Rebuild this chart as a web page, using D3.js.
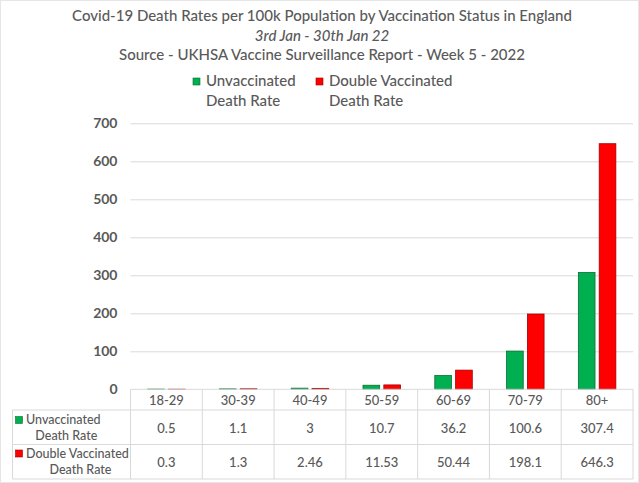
<!DOCTYPE html>
<html>
<head>
<meta charset="utf-8">
<script src="https://cdn.jsdelivr.net/npm/d3@7"></script>
<style>
  body { margin: 0; background: #fff; }
  text { font-family: Lato, "Open Sans", sans-serif; fill: #595959; }
</style>
</head>
<body>
<div id="chart"></div>
<script>
// data
const categories = ["18-29", "30-39", "40-49", "50-59", "60-69", "70-79", "80+"];
const unvaccinated = [0.5, 1.1, 3, 10.7, 36.2, 100.6, 307.4];
const doubleVaccinated = [0.3, 1.3, 2.46, 11.53, 50.44, 198.1, 646.3];
const yTicks = [0, 100, 200, 300, 400, 500, 600, 700];
const seriesNames = ["Unvaccinated", "Double Vaccinated"];
const seriesColors = ["#00b050", "#ff0000"];
const seriesStrokes = ["#0b6b35", "#a00000"];
const titleLines = [
    "Covid-19 Death Rates per 100k Population by Vaccination Status in England",
    "3rd Jan - 30th Jan 22",
    "Source - UKHSA Vaccine Surveillance Report - Week 5 - 2022"
];

const W = 639, H = 483;
const plot = {left: 130.5, right: 633, top: 123.3, bottom: 389.3};
const rows = {cat: 410, r1: 444.5, r2: 479, tableLeft: 12.5};
const grid = "#d9d9d9";

const svg = d3.select("#chart")
    .append("svg")
    .attr("width", W)
    .attr("height", H);

svg.append("rect")
    .attr("x", 0.5).attr("y", 0.5)
    .attr("width", W - 1).attr("height", H - 1)
    .attr("fill", "#fff")
    .attr("stroke", "#e6e6e6");

const series = [unvaccinated, doubleVaccinated];

const x = d3.scaleBand()
    .domain(categories)
    .range([plot.left, plot.right]);

const x1 = d3.scaleBand()
    .domain(d3.range(series.length))
    .range([0, 37.5])
    .paddingInner(0.2);

const y = d3.scaleLinear()
    .domain([0, 700])
    .range([plot.bottom, plot.top]);

// titles
svg.selectAll(".title")
    .data(titleLines)
    .join("text")
    .attr("class", "title")
    .attr("x", 322)
    .attr("y", (d, i) => [21, 41, 60][i])
    .attr("text-anchor", "middle")
    .style("font-size", "15px")
    .style("font-weight", 500)
    .style("font-style", (d, i) => i == 1 ? "italic" : "normal")
    .text(d => d);

// top legend
const legend = svg.selectAll(".legend")
    .data(seriesNames)
    .join("g")
    .attr("class", "legend")
    .attr("transform", (d, i) => `translate(${[193, 316][i]}, 0)`);

legend.append("rect")
    .attr("x", 0).attr("y", 78)
    .attr("width", 7).attr("height", 7)
    .attr("fill", (d, i) => seriesColors[i])
    .attr("stroke", (d, i) => seriesStrokes[i])
    .attr("stroke-width", 0.6);

legend.append("text")
    .attr("x", 13).attr("y", 86)
    .style("font-size", "15px")
    .style("font-weight", 500)
    .text(d => d);

legend.append("text")
    .attr("x", 13).attr("y", 106)
    .style("font-size", "15px")
    .style("font-weight", 500)
    .text("Death Rate");

// y axis + gridlines
const yAxis = svg.append("g")
    .attr("transform", `translate(${plot.left}, 0)`)
    .call(d3.axisLeft(y)
        .tickValues(yTicks.slice(1))
        .tickSize(-(plot.right - plot.left))
        .tickPadding(13));

yAxis.select(".domain").remove();
yAxis.selectAll("line").attr("stroke", grid);
yAxis.selectAll("text")
    .style("font-size", "14px")
    .style("font-weight", "bold")
    .attr("fill", "#595959");

// zero label sits beside the table top line
svg.append("text")
    .attr("x", plot.left - 13)
    .attr("y", y(0) + 5)
    .attr("text-anchor", "end")
    .style("font-size", "14px")
    .style("font-weight", "bold")
    .text(yTicks[0]);

// bars
const groups = svg.append("g")
    .selectAll("g")
    .data(categories)
    .join("g")
    .attr("transform", d => `translate(${x(d) + x.bandwidth() / 2 - 18.75}, 0)`);

groups.selectAll("rect")
    .data((d, ci) => series.map((s, si) => ({si: si, v: s[ci]})))
    .join("rect")
    .attr("x", d => x1(d.si))
    .attr("width", x1.bandwidth())
    .attr("y", d => y(d.v))
    .attr("height", d => y(0) - y(d.v))
    .attr("fill", d => seriesColors[d.si])
    .attr("stroke", d => seriesStrokes[d.si])
    .attr("stroke-width", 0.8);

// data table lines
const tbl = svg.append("g").attr("stroke", grid).attr("fill", "none");

tbl.append("line")
    .attr("x1", plot.left).attr("x2", plot.right)
    .attr("y1", y(0)).attr("y2", y(0));

[rows.cat, rows.r1, rows.r2].forEach(function (ry) {
    tbl.append("line")
        .attr("x1", rows.tableLeft).attr("x2", plot.right)
        .attr("y1", ry).attr("y2", ry);
});

tbl.append("line")
    .attr("x1", rows.tableLeft).attr("x2", rows.tableLeft)
    .attr("y1", rows.cat).attr("y2", rows.r2);

tbl.selectAll(".vline")
    .data(categories.concat(["end"]))
    .join("line")
    .attr("x1", (d, i) => plot.left + i * x.bandwidth())
    .attr("x2", (d, i) => plot.left + i * x.bandwidth())
    .attr("y1", y(0))
    .attr("y2", rows.r2);

// category labels
svg.selectAll(".cat")
    .data(categories)
    .join("text")
    .attr("class", "cat")
    .attr("x", d => x(d) + x.bandwidth() / 2)
    .attr("y", 405)
    .attr("text-anchor", "middle")
    .style("font-size", "13px")
    .style("font-weight", 500)
    .text(d => d);

// table values
const rowY = [433, 467];
series.forEach(function (s, si) {
    svg.selectAll(".val" + si)
        .data(s)
        .join("text")
        .attr("class", "val" + si)
        .attr("x", (d, i) => x(categories[i]) + x.bandwidth() / 2)
        .attr("y", rowY[si])
        .attr("text-anchor", "middle")
        .style("font-size", "13px")
        .style("font-weight", 500)
        .text(d => String(d));
});

// table row headers
const header = svg.selectAll(".rowhead")
    .data(seriesNames)
    .join("g")
    .attr("class", "rowhead");

header.append("rect")
    .attr("x", 15.5)
    .attr("y", (d, i) => [416.5, 450][i])
    .attr("width", 7).attr("height", 7)
    .attr("fill", (d, i) => seriesColors[i])
    .attr("stroke", (d, i) => seriesStrokes[i])
    .attr("stroke-width", 0.6);

header.append("text")
    .attr("x", 26)
    .attr("y", (d, i) => [423.5, 457.5][i])
    .style("font-size", "12.5px")
    .style("font-weight", 500)
    .text(d => d)
    .each(function (d, i) {
        const w = this.getComputedTextLength();
        d3.select(this.parentNode).append("text")
            .attr("x", 26 + w / 2 + 3)
            .attr("y", [439.5, 473.5][i])
            .attr("text-anchor", "middle")
            .style("font-size", "12.5px")
            .style("font-weight", 500)
            .text("Death Rate");
    });
</script>
</body>
</html>
